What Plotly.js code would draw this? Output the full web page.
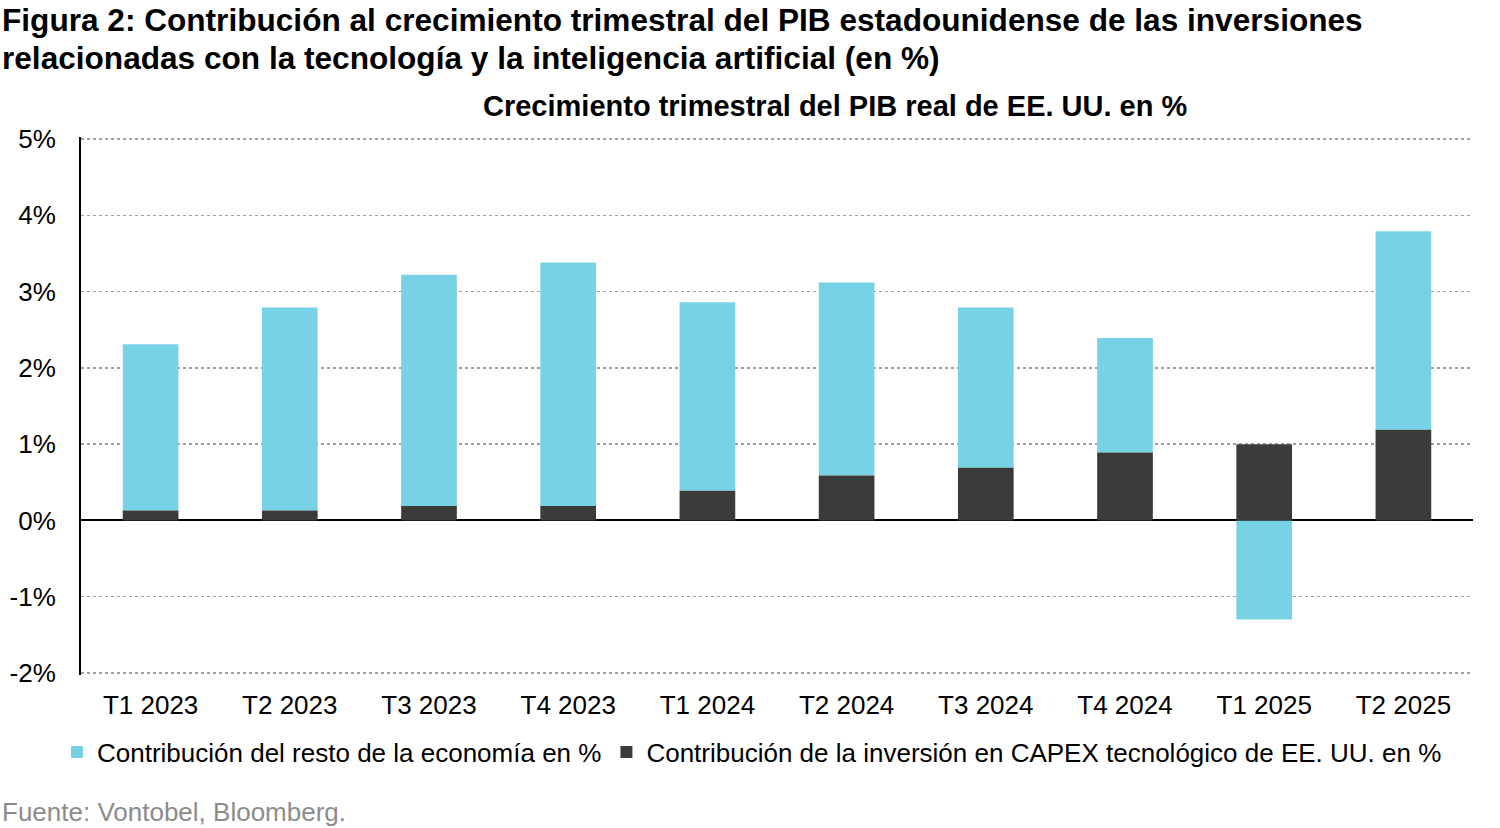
<!DOCTYPE html>
<html>
<head>
<meta charset="utf-8">
<script src="https://cdn.plot.ly/plotly-3.0.1.min.js"></script>
<style>
  html, body { margin: 0; padding: 0; background: #fff; }
  #chart { width: 1500px; height: 828px; }
</style>
</head>
<body>
<div id="chart"></div>
<script>
"use strict";

const quarters = [
    "T1 2023", "T2 2023", "T3 2023", "T4 2023", "T1 2024",
    "T2 2024", "T3 2024", "T4 2024", "T1 2025", "T2 2025",
];

// contribution of US tech CAPEX (dark)
const capexValues = [0.13, 0.13, 0.19, 0.19, 0.39, 0.59, 0.69, 0.89, 1.0, 1.19];

// contribution of the rest of the economy (light)
const restValues = [2.18, 2.66, 3.03, 3.19, 2.47, 2.53, 2.10, 1.50, -1.30, 2.60];

const yTicks = [-2, -1, 0, 1, 2, 3, 4, 5];
const yTickText = yTicks.map((v) => `${v}%`);

const fontFamily = "Liberation Sans, Arial, sans-serif";

// plot box in pixels, used to place the texts outside it
const W = 1500, H = 828;
const box = { l: 81, r: 27, t: 137, b: 153 };
const plotW = W - box.l - box.r;
const plotH = H - box.t - box.b;
const px = (x) => (x - box.l) / plotW;
const py = (y) => (H - box.b - y) / plotH;

const traces = [
    {
        type: "bar",
        name: "Contribución del resto de la economía en %",
        x: quarters,
        y: restValues,
        base: restValues.map((v, i) => (v >= 0 ? capexValues[i] : 0)),
        marker: { color: "#78d2e5" },
    },
    {
        type: "bar",
        name: "Contribución de la inversión en CAPEX tecnológico de EE. UU. en %",
        x: quarters,
        y: capexValues,
        marker: { color: "#3a3c3a" },
    },
];

const layout = {
    width: W,
    height: H,
    barmode: "overlay",
    bargap: 0.6,
    paper_bgcolor: "#ffffff",
    plot_bgcolor: "#ffffff",
    font: { family: fontFamily, color: "#000000", size: 26 },
    margin: { t: box.t, r: box.r, b: box.b, l: box.l, autoexpand: false },
    xaxis: {
        type: "category",
        showline: false,
        showgrid: false,
        ticks: "",
        tickfont: { size: 26 },
        ticklabelstandoff: 12,
        fixedrange: true,
    },
    yaxis: {
        range: [-2.026, 5.026],
        tickvals: yTicks,
        ticktext: yTickText,
        tickfont: { size: 26 },
        showgrid: true,
        gridcolor: "#a0a0a0",
        griddash: "dot",
        gridwidth: 1.5,
        zeroline: true,
        zerolinecolor: "#000000",
        zerolinewidth: 2,
        showline: true,
        linecolor: "#000000",
        linewidth: 2,
        ticks: "",
        ticklabelstandoff: 18,
        fixedrange: true,
    },
    showlegend: true,
    legend: {
        orientation: "h",
        x: px(752),
        xanchor: "center",
        y: py(752),
        yanchor: "middle",
        font: { size: 26 },
        traceorder: "normal",
        itemwidth: 30,
    },
    annotations: [
        {
            text: "<b>Figura 2: Contribución al crecimiento trimestral del PIB estadounidense de las inversiones</b>",
            x: px(0), xanchor: "left",
            y: py(20), yanchor: "middle",
            font: { size: 31.6 },
        },
        {
            text: "<b>relacionadas con la tecnología y la inteligencia artificial (en %)</b>",
            x: px(0), xanchor: "left",
            y: py(58), yanchor: "middle",
            font: { size: 31.6 },
        },
        {
            text: "<b>Crecimiento trimestral del PIB real de EE. UU. en %</b>",
            x: px(835), xanchor: "center",
            y: py(106), yanchor: "middle",
            font: { size: 29 },
        },
        {
            text: "Fuente: Vontobel, Bloomberg.",
            x: px(0), xanchor: "left",
            y: py(812), yanchor: "middle",
            font: { size: 26, color: "#8c8c8c" },
        },
    ].map((a) => Object.assign({ xref: "paper", yref: "paper", showarrow: false }, a)),
};

Plotly.newPlot("chart", traces, layout, { displayModeBar: false, staticPlot: true });
</script>
</body>
</html>
